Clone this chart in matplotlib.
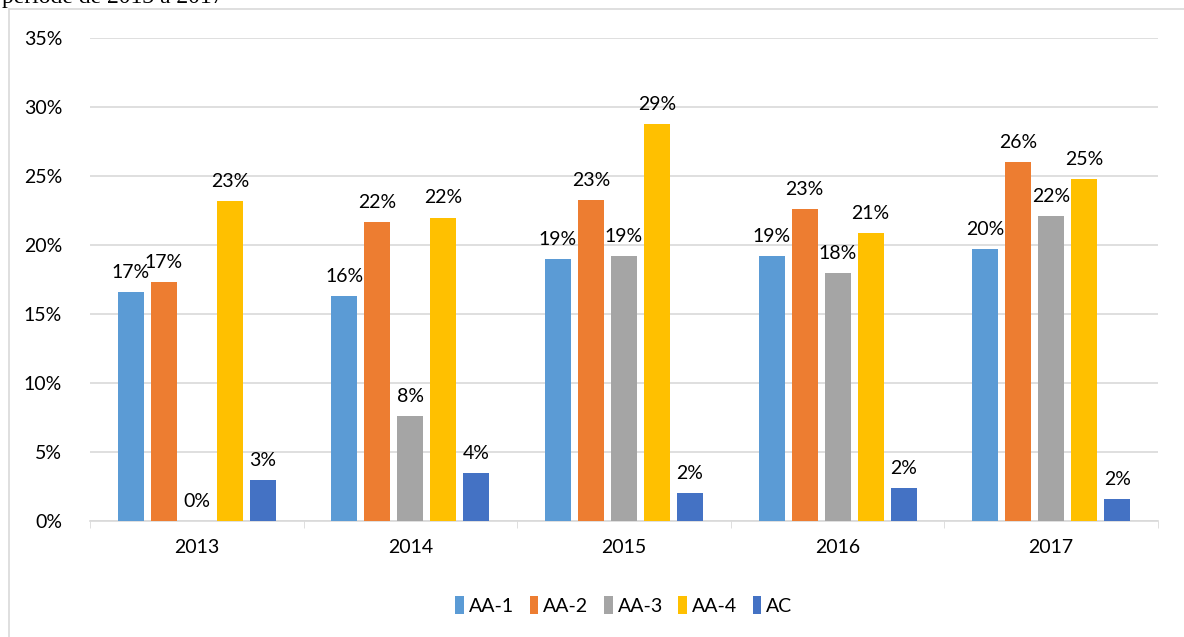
import numpy as np
import matplotlib.pyplot as plt
from matplotlib.patches import Rectangle

years = ['2013', '2014', '2015', '2016', '2017']
series = ['AA-1', 'AA-2', 'AA-3', 'AA-4', 'AC']
aa1 = [16.6, 16.3, 19.0, 19.2, 19.7]
aa2 = [17.3, 21.7, 23.3, 22.6, 26.0]
aa3 = [0.0, 7.6, 19.2, 18.0, 22.1]
aa4 = [23.2, 22.0, 28.8, 20.9, 24.8]
ac = [3.0, 3.5, 2.0, 2.4, 1.6]
colors = ['#5B9BD5', '#ED7D31', '#A5A5A5', '#FFC000', '#4472C4']

plt.rcParams['font.family'] = ['Lato', 'DejaVu Sans']

fig = plt.figure(figsize=(11.84, 6.37), dpi=100)
ax = fig.add_axes([0.076, 0.182, 0.902, 0.758])

# light frame of the embedded chart, cut off at right and bottom
fig.patches.append(Rectangle((8.5 / 1184, -0.05), 1.2, (637 - 9) / 637 + 0.05,
                             transform=fig.transFigure, fill=False,
                             edgecolor='#d9d9d9', linewidth=1.2))
# caption of the document, only its lower part shows above the chart
fig.text(0.002, 0.996, 'période de 2013 à 2017', family='Liberation Serif',
         fontsize=17, va='baseline', ha='left', color='black')

x = np.arange(len(years))
pitch = 0.1545
width = 0.122
for i, (name, vals) in enumerate(zip(series, [aa1, aa2, aa3, aa4, ac])):
    pos = x + (i - 2) * pitch
    bars = ax.bar(pos, vals, width=width, color=colors[i], label=name, zorder=3)
    ax.bar_label(bars, labels=['%d%%' % round(v) for v in vals], padding=8,
                 fontsize=14, color='black')

ax.set_ylim(0, 35)
ax.set_xlim(-0.5, len(years) - 0.5)
ax.set_yticks(np.arange(0, 36, 5))
ax.set_yticklabels(['%d%%' % v for v in range(0, 36, 5)], fontsize=14)
ax.set_xticks(x)
ax.set_xticklabels(years, fontsize=14)
ax.set_xticks(np.arange(-0.5, len(years), 1), minor=True)
ax.tick_params(axis='x', which='major', length=0, pad=13)
ax.tick_params(axis='x', which='minor', length=5, color='#d9d9d9')
ax.tick_params(axis='y', length=0, pad=20)
ax.grid(axis='y', color='#d9d9d9', linewidth=1.2, zorder=0)
for s in ['top', 'right', 'left']:
    ax.spines[s].set_visible(False)
ax.spines['bottom'].set_color('#d9d9d9')
ax.spines['bottom'].set_linewidth(1.2)

ax.legend(loc='center', bbox_to_anchor=(0.5, -0.175), ncol=5, frameon=False,
          fontsize=14, handlelength=0.45, handleheight=1.0, handletextpad=0.25,
          columnspacing=0.8)

fig.savefig('out.png', dpi=100)
